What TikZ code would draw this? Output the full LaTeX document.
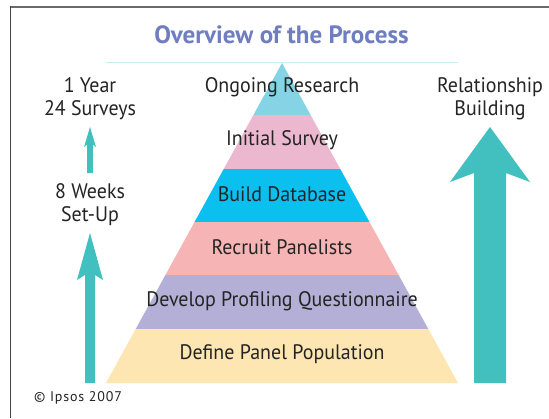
\documentclass[tikz,border=0pt]{standalone}
\usepackage{fontspec}
\setmainfont{PT Sans}[FakeStretch=0.95]
\newfontfamily\titlefont{PT Sans}
\definecolor{txt}{HTML}{242424}
\definecolor{titlec}{HTML}{6F7EC0}
\definecolor{rulec}{HTML}{C8EEF8}
\definecolor{framegray}{HTML}{6A6A6A}
\definecolor{frameleft}{HTML}{444444}
\definecolor{arrowc}{HTML}{42BFBF}
\definecolor{bandA}{HTML}{84D4E6}
\definecolor{bandB}{HTML}{ECB8CF}
\definecolor{bandC}{HTML}{0BBFEF}
\definecolor{bandD}{HTML}{F6B4B5}
\definecolor{bandE}{HTML}{B3AFD6}
\definecolor{bandF}{HTML}{FDE6B1}
\begin{document}
\begin{tikzpicture}[x=1pt,y=-1pt,
  lbl/.style={text=txt, font=\fontsize{21}{23}\selectfont, inner sep=0pt, align=center},
  arrowshape/.style={fill=arrowc, draw=none}]
\useasboundingbox (0,0) rectangle (549,418);
\fill[white] (0,0) rectangle (549,418);
% frame
\draw[framegray, line width=2pt] (10,6.5) -- (549,6.5);
\draw[frameleft, line width=1.3pt] (10.5,6) -- (10.5,418);
% title and rule
\node[font=\titlefont\fontsize{25}{28}\selectfont\bfseries, text=titlec, inner sep=0pt] (title) at (281.5,35) {Overview of the Process};
\draw[rulec, line width=1pt] (106,62) -- (458,62);
% pyramid bands: apex (282,63), base from 106 to 458 at y=383
\foreach \t/\b/\c in {63/115/bandA, 115/169/bandB, 169/222/bandC, 222/275/bandD, 275/329/bandE, 329/383/bandF}
  \fill[\c] ({282-0.55*(\t-63)},\t) -- ({282+0.55*(\t-63)},\t) -- ({282+0.55*(\b-63)},\b) -- ({282-0.55*(\b-63)},\b) -- cycle;
% band labels
\node[lbl] (ongoing) at (282,87) {Ongoing Research};
\node[lbl] (initial) at (282,140) {Initial Survey};
\node[lbl] (builddb) at (282,194) {Build Database};
\node[lbl] (recruit) at (282,247) {Recruit Panelists};
\node[lbl] (develop) at (282,301) {Develop Profiling Questionnaire};
\node[lbl] (define) at (282,354) {Define Panel Population};
% side labels
\node[lbl] (year) at (90,98.5) {1 Year\\24 Surveys};
\node[lbl] (weeks) at (90,205) {8 Weeks\\Set-Up};
\node[lbl] (relation) at (490,98.5) {Relationship\\Building};
% arrows
\fill[arrowshape] (90,127) -- (96,147) -- (92.8,144.5) -- (92.8,173) -- (87.2,173) -- (87.2,144.5) -- (84,147) -- cycle;
\fill[arrowshape] (90,233) -- (103,280) -- (95,275) -- (95,383) -- (85,383) -- (85,275) -- (77,280) -- cycle;
\fill[arrowshape] (490,127) -- (530,182) -- (506,173) -- (506,383) -- (474,383) -- (474,173) -- (450,182) -- cycle;
% copyright
\node[text=txt, font=\titlefont\fontsize{14}{16}\selectfont\addfontfeatures{LetterSpace=6}, inner sep=0pt, anchor=west] (copy) at (34,398) {© Ipsos 2007};
\end{tikzpicture}
\end{document}
